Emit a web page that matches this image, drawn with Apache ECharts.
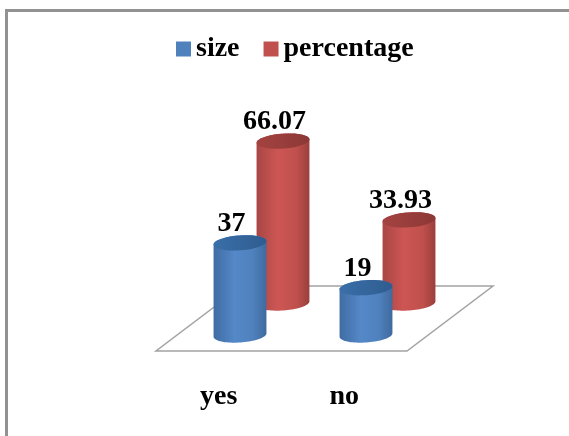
<!DOCTYPE html>
<html>
<head>
<meta charset="utf-8">
<style>html,body{margin:0;padding:0;background:#fff}#chart{position:absolute;left:0;top:0;width:569px;height:436px}
#frame{position:absolute;left:5px;top:9px;width:564px;height:427px;box-sizing:border-box;border-left:3px solid #929292;border-top:3px solid #929292}</style>
<script src="https://cdn.jsdelivr.net/npm/echarts@6/dist/echarts.min.js"></script>
</head>
<body>
<div id="frame"></div>
<div id="chart"></div>
<script>
const categories = ['yes', 'no'];
const sizeValues = [37, 19];
const percentageValues = [66.07, 33.93];
const valueLabels = {size: ['37', '19'], percentage: ['66.07', '33.93']};

const serif = '"Liberation Serif", serif';
const blue = {side: ['#3f6ca3', '#5588c8', '#4f81bd', '#3f6a9e'], cap: ['#2f5c8f', '#3a6fa9']};
const red = {side: ['#a84644', '#cd5654', '#c0504d', '#9b3f3d'], cap: ['#8c3836', '#a44341']};

// Points along a slightly tilted ellipse, between two parametric angles.
function arc(cx, cy, rx, ry, from, to) {
  const tilt = -0.07, pts = [];
  for (let i = 0; i <= 40; i++) {
    const t = from + (to - from) * i / 40;
    const x = rx * Math.cos(t), y = ry * Math.sin(t);
    pts.push([cx + x * Math.cos(tilt) - y * Math.sin(tilt), cy + x * Math.sin(tilt) + y * Math.cos(tilt)]);
  }
  return pts;
}

function cylinder(palette, labels) {
  return function (params, api) {
    const i = api.value(0);
    const top = api.coord([i, api.value(1)]);
    const base = api.coord([i, 0]);
    const rx = 26.5, ry = 7.5;
    const side = {
      type: 'linear', x: 0, y: 0, x2: 1, y2: 0,
      colorStops: [
        {offset: 0, color: palette.side[0]},
        {offset: 0.4, color: palette.side[1]},
        {offset: 0.75, color: palette.side[2]},
        {offset: 1, color: palette.side[3]}
      ]
    };
    const cap = {
      type: 'linear', x: 0, y: 0, x2: 1, y2: 0,
      colorStops: [{offset: 0, color: palette.cap[1]}, {offset: 1, color: palette.cap[0]}]
    };
    return {
      type: 'group',
      children: [
        {type: 'polygon', shape: {points: arc(base[0], base[1], rx, ry, 0, Math.PI).concat(arc(top[0], top[1], rx, ry, Math.PI, 2 * Math.PI))}, style: {fill: side}},
        {type: 'polygon', shape: {points: arc(top[0], top[1], rx, ry, 0, 2 * Math.PI)}, style: {fill: cap}},
        {type: 'text', x: top[0] - 8.5, y: top[1] - 5, style: {text: labels[i], fill: '#000', font: 'bold 28px ' + serif, textAlign: 'center', textVerticalAlign: 'bottom'}}
      ]
    };
  };
}

// The floor: the axis band gives the front edge, the back edge sits up and to the right.
function floor(params) {
  const c = params.coordSys;
  const bottom = c.y + c.height, dx = 86, dy = 65;
  return {
    type: 'polygon',
    shape: {points: [[c.x, bottom], [c.x + c.width, bottom], [c.x + c.width + dx, bottom - dy], [c.x + dx, bottom - dy]]},
    style: {fill: '#fff', stroke: '#a3a3a3', lineWidth: 1.5}
  };
}

const hiddenValue = {type: 'value', min: 0, max: 100, show: false};
function hiddenCategory(gridIndex) {
  return {type: 'category', data: categories, gridIndex, show: false};
}

const chart = echarts.init(document.getElementById('chart'), null, {renderer: 'canvas'});
chart.setOption({
  animation: false,
  backgroundColor: 'transparent',
  legend: {
    left: 171, top: 30, itemWidth: 15, itemHeight: 15, itemGap: 24, icon: 'rect',
    data: [
      {name: 'size', itemStyle: {color: '#4f81bd'}},
      {name: 'percentage', itemStyle: {color: '#c0504d'}}
    ],
    textStyle: {fontFamily: serif, fontWeight: 'bold', fontSize: 28, color: '#000'}
  },
  grid: [
    {left: 156, width: 251, top: 102, height: 249},
    {left: 220, width: 252, top: 58, height: 245},
    {left: 177, width: 252, top: 86, height: 249}
  ],
  xAxis: [
    {
      type: 'category', data: categories, gridIndex: 0,
      axisLine: {show: false}, axisTick: {show: false},
      axisLabel: {margin: 32, color: '#000', fontFamily: serif, fontWeight: 'bold', fontSize: 28}
    },
    hiddenCategory(1),
    hiddenCategory(2)
  ],
  yAxis: [
    Object.assign({gridIndex: 0}, hiddenValue),
    Object.assign({gridIndex: 1}, hiddenValue),
    Object.assign({gridIndex: 2}, hiddenValue)
  ],
  series: [
    {type: 'custom', name: 'floor', xAxisIndex: 0, yAxisIndex: 0, data: [[0, 0]], renderItem: floor, silent: true, z: 1},
    {
      type: 'custom', name: 'percentage', xAxisIndex: 1, yAxisIndex: 1, z: 2,
      itemStyle: {color: '#c0504d'},
      data: percentageValues.map((v, i) => [i, v]),
      encode: {x: 0, y: 1},
      renderItem: cylinder(red, valueLabels.percentage)
    },
    {
      type: 'custom', name: 'size', xAxisIndex: 2, yAxisIndex: 2, z: 3,
      itemStyle: {color: '#4f81bd'},
      data: sizeValues.map((v, i) => [i, v]),
      encode: {x: 0, y: 1},
      renderItem: cylinder(blue, valueLabels.size)
    }
  ]
});
</script>
</body>
</html>
